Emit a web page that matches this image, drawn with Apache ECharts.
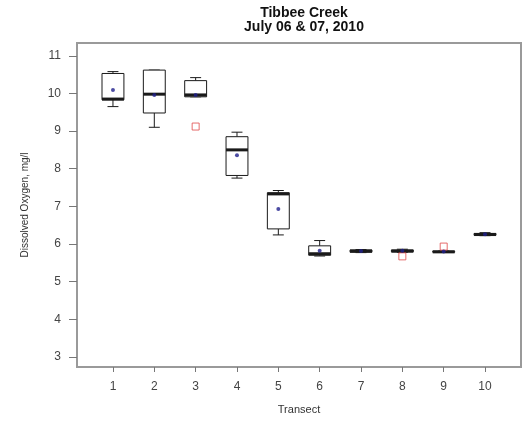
<!DOCTYPE html>
<html>
<head>
<meta charset="utf-8">
<style>
  html, body { margin: 0; padding: 0; background: #fff; }
  #chart { width: 523px; height: 423px; }
</style>
<script src="https://cdn.jsdelivr.net/npm/echarts@6/dist/echarts.min.js"></script>
</head>
<body>
<div id="chart"></div>
<script>
// Dissolved oxygen by transect: five-number summaries, means and outliers
const transects   = [1, 2, 3, 4, 5, 6, 7, 8, 9, 10];
const whiskerLow  = [9.65, 9.10, 9.91, 7.75, 6.24, 5.68, 5.77, 5.78, 5.78, 6.22];
const quartile1   = [9.83, 9.48, 9.91, 7.82, 6.40, 5.70, 5.78, 5.79, 5.78, 6.23];
const medians     = [9.85, 9.98, 9.96, 8.50, 7.33, 5.74, 5.81, 5.81, 5.79, 6.25];
const quartile3   = [10.53, 10.62, 10.34, 8.85, 7.36, 5.95, 5.84, 5.84, 5.81, 6.28];
const whiskerHigh = [10.58, 10.62, 10.42, 8.97, 7.42, 6.09, 5.85, 5.86, 5.81, 6.30];
const means       = [10.09, 9.96, 9.96, 8.36, 6.93, 5.82, 5.81, 5.82, 5.80, 6.26];
const outlierX    = [3, 8, 9];
const outlierY    = [9.12, 5.67, 5.93];
const xTicks      = [1, 2, 3, 4, 5, 6, 7, 8, 9, 10];
const yTicks      = [3, 4, 5, 6, 7, 8, 9, 10, 11];

const BOX_WIDTH = 0.53;
const FONT = '"Liberation Sans", Arial, sans-serif';

const boxData = transects.map((t, i) =>
  [t, whiskerLow[i], quartile1[i], medians[i], quartile3[i], whiskerHigh[i]]);
const meanData = transects.map((t, i) => [t, means[i]]);
const outlierData = outlierX.map((t, i) => [t, outlierY[i]]);

function renderBox(params, api) {
  const x = api.value(0);
  const lo = api.coord([x, api.value(1)]);
  const q1 = api.coord([x, api.value(2)]);
  const md = api.coord([x, api.value(3)]);
  const q3 = api.coord([x, api.value(4)]);
  const hi = api.coord([x, api.value(5)]);
  const hw = api.size([BOX_WIDTH, 0])[0] / 2;
  const cw = hw / 2;
  const cx = lo[0];
  const line = (x1, y1, x2, y2, w) => ({
    type: 'line',
    shape: { x1, y1, x2, y2 },
    style: { stroke: '#1a1a1a', lineWidth: w || 1 }
  });
  return {
    type: 'group',
    children: [
      line(cx, q3[1], cx, hi[1]),
      line(cx, q1[1], cx, lo[1]),
      line(cx - cw, hi[1], cx + cw, hi[1]),
      line(cx - cw, lo[1], cx + cw, lo[1]),
      {
        type: 'rect',
        shape: { x: cx - hw, y: q3[1], width: hw * 2, height: q1[1] - q3[1] },
        style: { fill: '#ffffff', stroke: '#1a1a1a', lineWidth: 1 }
      },
      line(cx - hw, md[1], cx + hw, md[1], 3)
    ]
  };
}

const chart = echarts.init(document.getElementById('chart'), null, { renderer: 'canvas' });
chart.setOption({
  animation: false,
  backgroundColor: '#ffffff',
  title: {
    text: 'Tibbee Creek\nJuly 06 & 07, 2010',
    left: 299,
    top: 1,
    textAlign: 'center',
    textStyle: { fontFamily: FONT, fontSize: 14, fontWeight: 'bold', color: '#111', lineHeight: 14 }
  },
  grid: {
    left: 77, right: 2, top: 43, bottom: 56,
    show: true, borderColor: '#9a9a9a', borderWidth: 2, backgroundColor: 'transparent'
  },
  xAxis: {
    type: 'value',
    min: 0.13, max: 10.87,
    name: 'Transect',
    nameLocation: 'middle',
    nameGap: 37,
    nameTextStyle: { fontFamily: FONT, fontSize: 11, color: '#333' },
    axisLine: { show: false },
    splitLine: { show: false },
    axisTick: { show: true, length: 5, customValues: xTicks, lineStyle: { color: '#777' } },
    axisLabel: { customValues: xTicks, margin: 14, fontFamily: FONT, fontSize: 12, color: '#444' }
  },
  yAxis: {
    type: 'value',
    min: 2.73, max: 11.34,
    name: 'Dissolved Oxygen, mg/l',
    nameLocation: 'middle',
    nameGap: 47,
    nameTextStyle: { fontFamily: FONT, fontSize: 10, color: '#333' },
    axisLine: { show: false },
    splitLine: { show: false },
    axisTick: { show: true, length: 8, customValues: yTicks, lineStyle: { color: '#777' } },
    axisLabel: { customValues: yTicks, margin: 16, fontFamily: FONT, fontSize: 12, color: '#444' }
  },
  series: [
    {
      type: 'custom',
      renderItem: renderBox,
      data: boxData,
      encode: { x: 0, y: [1, 2, 3, 4, 5] },
      z: 2
    },
    {
      type: 'scatter',
      data: meanData,
      symbol: 'circle',
      symbolSize: 4,
      itemStyle: { color: '#1f1f8c' },
      z: 4
    },
    {
      type: 'scatter',
      data: outlierData,
      symbol: 'rect',
      symbolSize: 7,
      itemStyle: { color: 'rgba(0,0,0,0)', borderColor: '#e04848', borderWidth: 1 },
      z: 3
    }
  ]
});
</script>
</body>
</html>
